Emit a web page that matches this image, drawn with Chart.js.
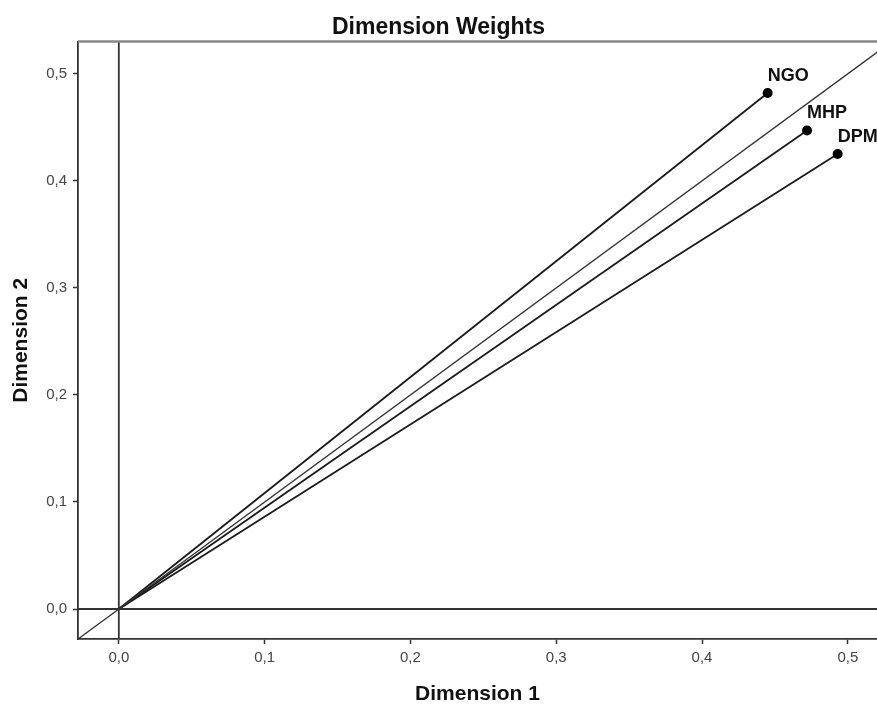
<!DOCTYPE html>
<html>
<head>
<meta charset="utf-8">
<script src="https://cdn.jsdelivr.net/npm/chart.js@4.4.1/dist/chart.umd.min.js"></script>
<style>
html,body{margin:0;padding:0;background:#fff;}
#wrap{width:877px;height:704px;}
</style>
</head>
<body>
<div id="wrap"><canvas id="c" width="877" height="704"></canvas></div>
<script>
const labels = ['NGO', 'MHP', 'DPM'];
const dim1 = [0.445, 0.472, 0.493];
const dim2 = [0.482, 0.447, 0.425];
const xRange = [-0.028, 0.520];
const yRange = [-0.028, 0.530];
const refLine = [-0.028, 0.530];

const datasets = [];
// reference y = x line
datasets.push({
  label: 'ref',
  data: [{x: refLine[0], y: refLine[0]}, {x: refLine[1], y: refLine[1]}],
  showLine: true, borderColor: '#333', borderWidth: 1.4, pointRadius: 0, clip: true
});
// zero lines
datasets.push({
  label: 'zx',
  data: [{x: 0, y: yRange[0]}, {x: 0, y: yRange[1]}],
  showLine: true, borderColor: '#333', borderWidth: 1.8, pointRadius: 0
});
datasets.push({
  label: 'zy',
  data: [{x: xRange[0], y: 0}, {x: xRange[1], y: 0}],
  showLine: true, borderColor: '#333', borderWidth: 1.8, pointRadius: 0
});
labels.forEach((l, i) => {
  datasets.push({
    label: l,
    data: [{x: 0, y: 0}, {x: dim1[i], y: dim2[i]}],
    showLine: true, borderColor: '#1a1a1a', borderWidth: 1.8,
    pointRadius: [0, 5], pointBackgroundColor: '#000', pointBorderColor: '#000',
    pointBorderWidth: 0, isWeight: true, clip: false
  });
});

const decor = {
  id: 'decor',
  afterDatasetsDraw(chart) {
    const ctx = chart.ctx;
    const a = chart.chartArea;
    ctx.save();
    ctx.strokeStyle = '#888';
    ctx.lineWidth = 2.5;
    ctx.beginPath();
    ctx.moveTo(a.left, a.top);
    ctx.lineTo(a.right, a.top);
    ctx.stroke();
    ctx.fillStyle = '#111';
    ctx.font = 'bold 18px "Liberation Sans", Arial, sans-serif';
    ctx.textAlign = 'left';
    ctx.textBaseline = 'alphabetic';
    chart.data.datasets.forEach((ds, di) => {
      if (!ds.isWeight) return;
      const p = chart.getDatasetMeta(di).data[1];
      ctx.fillText(ds.label, p.x, p.y - 12);
    });
    ctx.restore();
  }
};

const tickFont = {family: '"Liberation Sans", Arial, sans-serif', size: 15};
const axisTitleFont = {family: '"Liberation Sans", Arial, sans-serif', size: 21, weight: 'bold'};
new Chart(document.getElementById('c'), {
  type: 'scatter',
  data: {datasets},
  options: {
    responsive: false,
    animation: false,
    layout: {autoPadding: false, padding: {left: 0, right: 0, top: 0, bottom: 0}},
    plugins: {
      legend: {display: false},
      tooltip: {enabled: false},
      title: {
        display: true, text: 'Dimension Weights', color: '#111',
        font: {family: '"Liberation Sans", Arial, sans-serif', size: 23, weight: 'bold'},
        padding: {top: 14, bottom: 0}
      }
    },
    scales: {
      x: {
        type: 'linear', min: xRange[0], max: xRange[1],
        afterFit(s) { s.height = 65; s.paddingLeft = 0; s.paddingRight = 0; },
        ticks: {stepSize: 0.1, includeBounds: false, color: '#444', font: tickFont, padding: 5,
          callback: v => v.toFixed(1).replace('.', ',')},
        grid: {drawOnChartArea: false, tickLength: 5, tickColor: '#333', tickWidth: 1.5},
        border: {color: '#333', width: 1.8},
        title: {display: true, text: 'Dimension 1', color: '#111', font: axisTitleFont,
          padding: {top: 0, bottom: -3}}
      },
      y: {
        type: 'linear', min: yRange[0], max: yRange[1],
        afterFit(s) { s.width = 78; s.paddingTop = 0; s.paddingBottom = 0; },
        ticks: {stepSize: 0.1, includeBounds: false, color: '#444', font: tickFont, padding: 6,
          callback: v => v.toFixed(1).replace('.', ',')},
        grid: {drawOnChartArea: false, tickLength: 5, tickColor: '#333', tickWidth: 1.5},
        border: {color: '#333', width: 1.8},
        title: {display: true, text: 'Dimension 2', color: '#111', font: axisTitleFont,
          padding: {top: 9, bottom: 0}}
      }
    }
  },
  plugins: [decor]
});
</script>
</body>
</html>
